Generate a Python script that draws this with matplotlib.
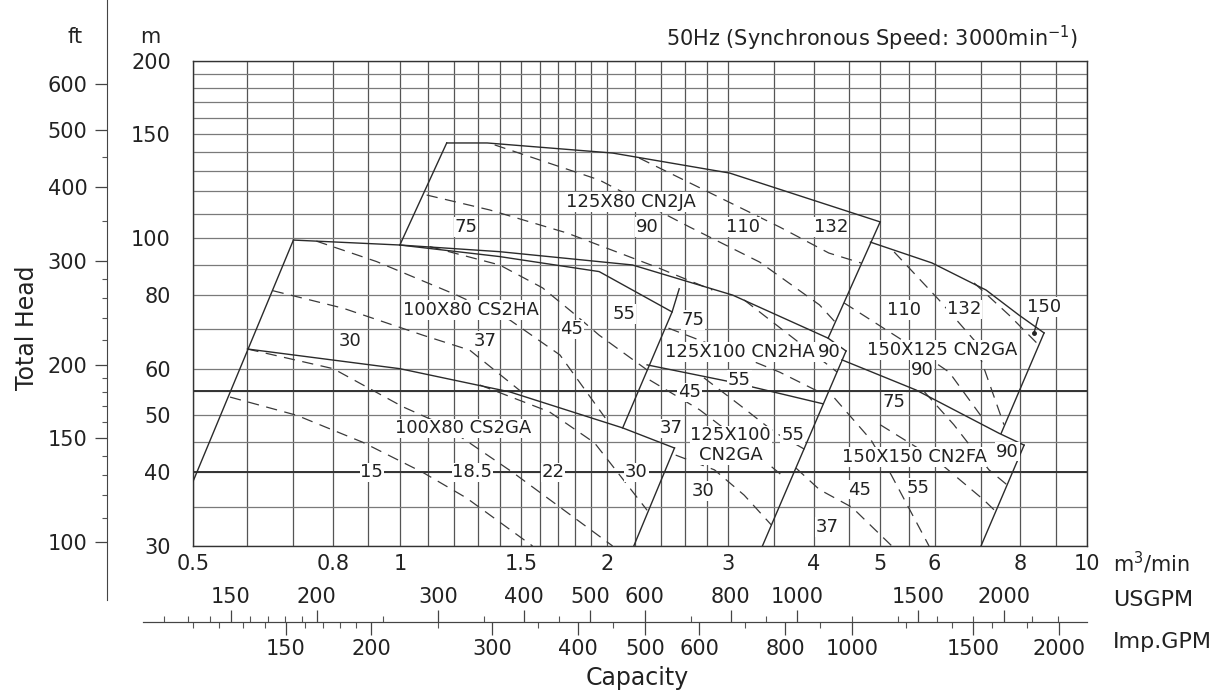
import numpy as np
import matplotlib.pyplot as plt
from matplotlib.ticker import FixedLocator, FixedFormatter, NullFormatter

# ---- values: Q in m3/min, H in m ----
q_grid = [0.5, 0.6, 0.7, 0.8, 0.9, 1.0, 1.1, 1.2, 1.3, 1.4, 1.5, 1.6, 1.7, 1.8, 1.9,
          2.0, 2.2, 2.4, 2.6, 2.8, 3.0, 3.5, 4.0, 4.5, 5.0, 5.5, 6, 7, 8, 9, 10]
h_grid = [30, 35, 40, 45, 50, 55, 60, 70, 80, 90, 100, 110, 120, 130, 140, 150,
          160, 170, 180, 190, 200]
h_bold = [40, 55]
q_ticks = [0.5, 0.8, 1, 1.5, 2, 3, 4, 5, 6, 8, 10]
q_tick_labels = ['0.5', '0.8', '1', '1.5', '2', '3', '4', '5', '6', '8', '10']
h_ticks = [30, 40, 50, 60, 80, 100, 150, 200]
ft_major = [100, 150, 200, 300, 400, 500, 600]
ft_minor = [110, 120, 130, 140, 160, 170, 180, 190, 220, 240, 260, 280, 350, 450]
us_major = [150, 200, 300, 400, 500, 600, 800, 1000, 1500, 2000]
us_minor = [120, 130, 140, 160, 170, 180, 190, 250, 350, 450, 700, 900,
            1200, 1400, 1600, 1800, 2200, 2400]
imp_major = [150, 200, 300, 400, 500, 600, 800, 1000, 1500, 2000]
imp_minor = [110, 120, 130, 140, 160, 170, 180, 190, 250, 350, 450, 700, 900,
             1200, 1400, 1600, 1800]

# solid tile boundaries (Q list, H list)
cs_left = ([0.50, 0.70], [38.6, 99.2])
cs2ha_top = ([0.70, 1.0, 1.397, 1.95, 2.49], [99.2, 97.3, 93.0, 87.7, 74.9])
cs2ha_right = ([2.55, 2.49, 2.11], [82.0, 74.9, 47.6])
cs2ga_top = ([0.6, 1.0, 1.445, 2.11, 2.51], [64.8, 60.0, 54.8, 47.6, 44.0])
cs2ga_right = ([2.51, 2.19], [44.0, 30.0])
cn2ja_left = ([1.0, 1.17], [97.3, 145.0])
cn2ja_top = ([1.17, 1.34, 2.04, 3.02, 5.0], [145.0, 145.0, 139.4, 128.9, 106.5])
cn2ja_right = ([5.0, 4.20], [106.5, 67.6])
cn2ja_bottom = ([1.0, 1.397, 2.18, 3.05, 4.20, 4.46], [97.3, 94.8, 90.0, 80.0, 67.6, 64.3])
cn2ha_bottom = ([2.29, 3.05, 4.13], [60.9, 56.9, 52.3])
cn2ha_right = ([4.46, 3.37], [64.3, 30.0])
cn2ga150_top = ([4.84, 5.95, 7.13, 7.96, 8.66], [98.4, 90.7, 81.6, 74.0, 69.0])
cn2ga150_right = ([8.66, 7.50], [69.0, 46.6])
cn2fa_top = ([4.40, 5.64, 7.45, 8.10], [62.1, 55.2, 46.6, 44.5])
cn2fa_right = ([8.10, 7.01], [44.5, 30.0])
leader_150 = ([8.51, 8.37], [74.0, 68.9])

# dashed motor-output boundaries
ga_kw1 = ([0.566, 0.708, 0.883, 1.08, 1.25, 1.56], [53.7, 50.0, 45.0, 40.0, 36.2, 30.0])
ga_kw2 = ([0.6, 0.8, 1.01, 1.155, 1.46, 2.04], [64.8, 60.0, 51.7, 48.2, 40.0, 30.0])
ga_kw3 = ([1.307, 1.65, 1.92, 2.29], [56.3, 50.7, 44.9, 34.5])
ha_kw1 = ([0.653, 0.827, 1.08, 1.264, 1.53], [81.4, 76.0, 68.4, 64.5, 53.9])
ha_kw2 = ([0.756, 0.925, 1.21, 1.445, 1.71, 1.99], [98.8, 91.2, 80.0, 72.6, 63.3, 49.5])
ha_kw3 = ([1.105, 1.397, 1.613, 1.78, 1.95, 2.29], [96.7, 90.0, 82.3, 74.9, 68.4, 59.7])
ja_kw1 = ([1.094, 1.351, 1.75, 2.36, 2.85], [118.3, 111.6, 102.0, 89.3, 81.6])
ja_kw2 = ([1.374, 1.95, 2.64, 3.34, 4.08, 4.30], [143.9, 125.5, 104.4, 91.0, 77.0, 72.0])
ja_kw3 = ([2.23, 3.57, 4.21, 4.69], [136.7, 104.4, 94.3, 90.7])
hb_kw1 = ([2.46, 3.02, 3.57, 4.10], [70.3, 64.1, 59.2, 54.6])
hb_kw2 = ([3.17, 3.69, 4.33], [78.5, 68.4, 59.2])
gb_kw1 = ([2.52, 2.87, 3.17, 3.47], [42.8, 40.4, 36.6, 32.6])
gb_kw2 = ([2.31, 2.73, 3.12, 3.63], [57.4, 51.1, 45.4, 39.2])
gb_kw3 = ([2.77, 3.12, 3.51, 3.88], [57.9, 52.1, 46.8, 43.8])
g150_kw1 = ([4.43, 5.33, 6.30, 7.08], [77.6, 67.6, 59.2, 49.1])
g150_kw2 = ([5.24, 6.09, 6.85, 7.57], [94.7, 78.5, 67.1, 48.2])
g150_kw3 = ([6.85, 7.70, 8.51], [83.9, 74.0, 65.8])
fa_kw1 = ([3.77, 4.08, 4.55, 5.20], [40.7, 37.4, 34.9, 30.0])
fa_kw2 = ([4.29, 4.85, 5.19, 5.89], [53.5, 45.4, 39.6, 30.0])
fa_kw3 = ([5.0, 5.99, 7.08, 7.45], [48.2, 42.3, 35.9, 33.9])
fa_kw4 = ([5.80, 6.40, 7.20, 7.65], [54.8, 48.2, 40.4, 38.1])

model_labels = [('125X80 CN2JA', 2.17, 115.1), ('100X80 CS2HA', 1.27, 75.5),
                ('125X100 CN2HA', 3.13, 64.1), ('150X125 CN2GA', 6.16, 64.5),
                ('100X80 CS2GA', 1.236, 47.5), ('125X100\nCN2GA', 3.03, 44.5),
                ('150X150 CN2FA', 5.60, 42.5)]
kw_labels = [('75', 1.247, 104.4), ('90', 2.29, 104.4), ('110', 3.16, 104.4),
             ('132', 4.24, 104.4), ('30', 0.845, 66.9), ('37', 1.33, 66.9),
             ('45', 1.78, 70.0), ('55', 2.12, 74.3), ('75', 2.67, 72.6),
             ('90', 4.21, 64.1), ('55', 3.12, 57.4), ('45', 2.64, 54.7),
             ('37', 2.48, 47.5), ('55', 3.73, 46.3), ('30', 2.76, 37.2),
             ('110', 5.42, 75.5), ('132', 6.62, 75.7), ('150', 8.66, 76.3),
             ('90', 5.76, 59.7), ('75', 5.24, 52.7), ('90', 7.66, 43.4),
             ('45', 4.66, 37.4), ('55', 5.67, 37.7), ('37', 4.19, 32.3),
             ('15', 0.91, 40), ('18.5', 1.275, 40), ('22', 1.67, 40), ('30', 2.21, 40)]

# ---- layout (pixels of the 1228x692 picture) ----
W, H = 1228, 692
x0, x1, y0, y1 = 193, 1087, 60.7, 546
fig = plt.figure(figsize=(W / 100, H / 100), dpi=100)
ax = fig.add_axes([x0 / W, 1 - y1 / H, (x1 - x0) / W, (y1 - y0) / H])
ax.set_xscale('log')
ax.set_yscale('log')
ax.set_xlim(0.5, 10)
ax.set_ylim(30, 200)

for q in q_grid:
    ax.axvline(q, color='#555555', lw=0.9, zorder=1)
for h in h_grid:
    ax.axhline(h, color='#7a7a7a', lw=0.9, zorder=1)
for h in h_bold:
    ax.axhline(h, color='#333333', lw=1.4, zorder=1)

line_kw = dict(color='#2b2b2b', lw=1.0, zorder=3)
for q, h in [cs_left, cs2ha_top, cs2ha_right, cs2ga_top, cs2ga_right, cn2ja_left,
             cn2ja_top, cn2ja_right, cn2ja_bottom, cn2ha_bottom, cn2ha_right,
             cn2ga150_top, cn2ga150_right, cn2fa_top, cn2fa_right, leader_150]:
    ax.plot(q, h, **line_kw)
ax.plot(leader_150[0][1], leader_150[1][1], 'o', ms=2.5, color='#222222', zorder=4)

dash_kw = dict(color='#3a3a3a', lw=0.9, ls=(0, (9, 6)), zorder=2)
for q, h in [ga_kw1, ga_kw2, ga_kw3, ha_kw1, ha_kw2, ha_kw3, ja_kw1, ja_kw2, ja_kw3,
             hb_kw1, hb_kw2, gb_kw1, gb_kw2, gb_kw3, g150_kw1, g150_kw2, g150_kw3,
             fa_kw1, fa_kw2, fa_kw3, fa_kw4]:
    ax.plot(q, h, **dash_kw)

box = dict(facecolor='white', edgecolor='none', pad=0.5)
for txt, q, h in model_labels + kw_labels:
    ax.text(q, h, txt, ha='center', va='center', fontsize=13, color='#222222',
            bbox=box, zorder=5, linespacing=1.1)

for s in ax.spines.values():
    s.set_color('#333333')
    s.set_linewidth(1.0)
ax.set_xticks(q_ticks)
ax.set_xticklabels(q_tick_labels)
ax.xaxis.set_minor_formatter(NullFormatter())
ax.set_yticks(h_ticks)
ax.set_yticklabels([str(h) for h in h_ticks])
ax.yaxis.set_minor_formatter(NullFormatter())
ax.tick_params(which='both', length=0, labelsize=15, colors='#222222')
ax.tick_params(axis='x', pad=6)
ax.tick_params(axis='y', pad=16)

# feet scale on the far left
dec_y = (y1 - y0) / np.log10(200 / 30)
ft_bot, ft_top = 600, 0
h_lo = 30 * 10 ** (-(ft_bot - y1) / dec_y)
h_hi = 200 * 10 ** (y0 / dec_y)
axft = fig.add_axes([107 / W, 1 - ft_bot / H, 0.0004, (ft_bot - ft_top) / H])
axft.set_yscale('log')
axft.set_ylim(h_lo / 0.3048, h_hi / 0.3048)
axft.set_xticks([])
for k in ['right', 'top', 'bottom']:
    axft.spines[k].set_visible(False)
axft.spines['left'].set_color('#444444')
axft.yaxis.set_major_locator(FixedLocator(ft_major))
axft.yaxis.set_major_formatter(FixedFormatter([str(v) for v in ft_major]))
axft.yaxis.set_minor_locator(FixedLocator(ft_minor))
axft.yaxis.set_minor_formatter(NullFormatter())
axft.tick_params(which='major', length=9, width=0.9, colors='#444444', labelsize=15,
                 labelcolor='#222222', pad=5)
axft.tick_params(which='minor', length=3.5, width=0.8, colors='#555555')

# gallon scales under the plot
dec_x = (x1 - x0) / np.log10(10 / 0.5)
gx0 = 143
q_lo = 0.5 * 10 ** (-(x0 - gx0) / dec_x)
gy = 622
rect = [gx0 / W, 1 - gy / H, (x1 - gx0) / W, 0.0002]
for units, major, minor, side, lab_pad in [(264.17, us_major, us_minor, 'top', 2),
                                           (219.97, imp_major, imp_minor, 'bottom', 3)]:
    a = fig.add_axes(rect)
    a.patch.set_visible(False)
    a.set_xscale('log')
    a.set_xlim(q_lo * units, 10 * units)
    a.set_yticks([])
    for k in a.spines:
        a.spines[k].set_visible(k == side)
    a.spines[side].set_color('#444444')
    a.xaxis.set_ticks_position(side)
    a.xaxis.set_label_position(side)
    a.xaxis.set_major_locator(FixedLocator(major))
    a.xaxis.set_major_formatter(FixedFormatter([str(v) for v in major]))
    a.xaxis.set_minor_locator(FixedLocator(minor))
    a.xaxis.set_minor_formatter(NullFormatter())
    a.tick_params(which='major', length=9, width=0.9, colors='#444444', labelsize=15,
                  labelcolor='#222222', pad=lab_pad)
    a.tick_params(which='minor', length=4, width=0.8, colors='#555555')

txt = dict(color='#222222', va='center')
fig.text(75 / W, 1 - 37 / H, 'ft', ha='center', fontsize=15, **txt)
fig.text(150 / W, 1 - 37 / H, 'm', ha='center', fontsize=15, **txt)
fig.text(1078 / W, 1 - 38 / H, '50Hz (Synchronous Speed: 3000min$^{-1}$)', ha='right',
         fontsize=15, **txt)
fig.text(1113 / W, 1 - 563 / H, 'm$^3$/min', ha='left', fontsize=15, **txt)
fig.text(1113 / W, 1 - 600 / H, 'USGPM', ha='left', fontsize=16, **txt)
fig.text(1113 / W, 1 - 642 / H, 'Imp.GPM', ha='left', fontsize=16, **txt)
fig.text(637 / W, 1 - 678 / H, 'Capacity', ha='center', fontsize=17, **txt)
fig.text(27 / W, 1 - 328 / H, 'Total Head', ha='center', rotation=90, fontsize=17, **txt)

fig.savefig('out.png', dpi=100, facecolor='white')
